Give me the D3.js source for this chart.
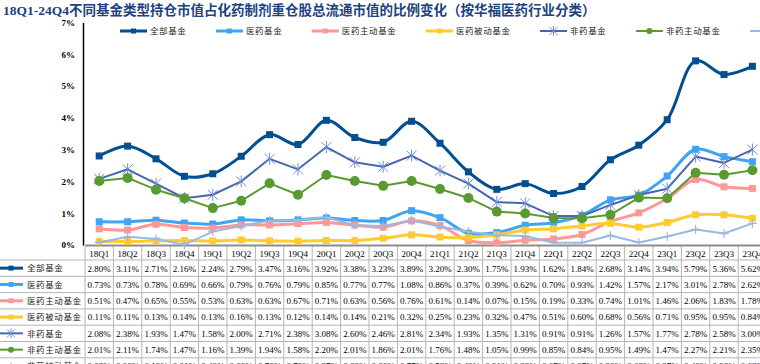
<!DOCTYPE html>
<html>
<head>
<meta charset="utf-8">
<script src="https://cdn.jsdelivr.net/npm/d3@7"></script>
<style>
  body { margin: 0; overflow: hidden; background: #fff; }
  svg { display: block; }
</style>
</head>
<body>
<script>
// quarters (title says up to 24Q4, picture is cut after 23Q4)
const QUARTERS = ['18Q1','18Q2','18Q3','18Q4','19Q1','19Q2','19Q3','19Q4','20Q1','20Q2','20Q3','20Q4',
  '21Q1','21Q2','21Q3','21Q4','22Q1','22Q2','22Q3','22Q4','23Q1','23Q2','23Q3','23Q4',
  '24Q1','24Q2','24Q3','24Q4'];

const ALL_FUNDS = [2.80,3.11,2.71,2.16,2.24,2.79,3.47,3.16,3.92,3.38,3.23,3.89,3.20,2.30,1.75,1.93,1.62,1.84,2.68,3.14,3.94,5.79,5.36,5.62];
const PHARMA = [0.73,0.73,0.78,0.69,0.66,0.79,0.76,0.79,0.85,0.77,0.77,1.08,0.86,0.37,0.39,0.62,0.70,0.93,1.42,1.57,2.17,3.01,2.78,2.62];
const PHARMA_ACTIVE = [0.51,0.47,0.65,0.55,0.53,0.63,0.63,0.67,0.71,0.63,0.56,0.76,0.61,0.14,0.07,0.15,0.19,0.33,0.74,1.01,1.46,2.06,1.83,1.78];
const PHARMA_PASSIVE = [0.11,0.11,0.13,0.14,0.13,0.16,0.13,0.12,0.14,0.14,0.21,0.32,0.25,0.23,0.32,0.47,0.51,0.60,0.68,0.56,0.71,0.95,0.95,0.84];
const NON_PHARMA = [2.08,2.38,1.93,1.47,1.58,2.00,2.71,2.38,3.08,2.60,2.46,2.81,2.34,1.93,1.35,1.31,0.91,0.91,1.26,1.57,1.77,2.78,2.58,3.00];
const NON_PHARMA_ACTIVE = [2.01,2.11,1.74,1.47,1.16,1.39,1.94,1.58,2.20,2.01,1.86,2.01,1.76,1.48,1.05,0.99,0.85,0.84,0.95,1.49,1.47,2.27,2.21,2.35];
// row is cut off in the picture
const NON_PHARMA_PASSIVE = [0.08,0.26,0.19,0.01,0.42,0.60,0.76,0.79,0.87,0.62,0.60,0.77,0.58,0.42,0.31,0.28,0.07,0.07,0.30,0.08,0.27,0.49,0.36,0.68];

const Y_TICKS = [0,1,2,3,4,5,6,7];

const SERIES = [
  {name: '全部基金', values: ALL_FUNDS, color: '#004f91', width: 3, marker: 'square', smooth: true},
  {name: '医药基金', values: PHARMA, color: '#3da5f4', width: 3, marker: 'square', smooth: true},
  {name: '医药主动基金', values: PHARMA_ACTIVE, color: '#ff9796', width: 3, marker: 'square', smooth: true},
  {name: '医药被动基金', values: PHARMA_PASSIVE, color: '#ffcb2f', width: 3, marker: 'square', smooth: true},
  {name: '非药基金', values: NON_PHARMA, color: '#4866b0', width: 2, marker: 'star', smooth: false},
  {name: '非药主动基金', values: NON_PHARMA_ACTIVE, color: '#5a9a30', width: 2, marker: 'circle', smooth: false},
  {name: '非药被动基金', values: NON_PHARMA_PASSIVE, color: '#97b9e4', width: 2, marker: 'plus', smooth: false},
];

const CJK = '"Noto Sans CJK SC", sans-serif';
const SERIF = '"Liberation Serif", "Noto Sans CJK SC", serif';

const COL_W = 28.4;
const LEFT = 85;
const AXIS_X = 83;
const ROW_TOP = 260;
const ROW_H = 16.3;

const svg = d3.select('body').append('svg')
  .attr('width', 900)
  .attr('height', 380);

const x = d3.scaleBand().domain(QUARTERS).range([LEFT, LEFT + COL_W * QUARTERS.length]);
const cx = q => x(q) + x.bandwidth() / 2;
const y = d3.scaleLinear().domain([0, 7]).range([245, 22.4]);

// title
svg.append('text')
  .attr('x', 3).attr('y', 15)
  .attr('font-family', SERIF)
  .attr('font-weight', 'bold')
  .attr('font-size', 13.5)
  .attr('fill', '#1c4282')
  .text('18Q1-24Q4不同基金类型持仓市值占化药制剂重仓股总流通市值的比例变化（按华福医药行业分类）');

// markers
function marker(g, type, color, px, py, s) {
  if (type === 'square') {
    g.append('rect').attr('x', px - s / 2).attr('y', py - s / 2)
      .attr('width', s).attr('height', s).attr('fill', color);
  } else if (type === 'circle') {
    g.append('circle').attr('cx', px).attr('cy', py).attr('r', s / 2 + 1).attr('fill', color);
  } else if (type === 'star') {
    const r = s / 2 + 1.5;
    const p = `M${px - r},${py - r}L${px + r},${py + r}M${px - r},${py + r}L${px + r},${py - r}M${px},${py - r - 1}L${px},${py + r + 1}`;
    g.append('path').attr('d', p).attr('stroke', '#6f8fd8').attr('stroke-width', 1).attr('fill', 'none');
  } else if (type === 'plus') {
    const r = s / 2 + 1;
    g.append('path').attr('d', `M${px - r},${py}L${px + r},${py}M${px},${py - r}L${px},${py + r}`)
      .attr('stroke', color).attr('stroke-width', 1.2).attr('fill', 'none');
  }
}

// legend
let lx = 120;
SERIES.forEach(s => {
  const g = svg.append('g');
  g.append('line').attr('x1', lx).attr('x2', lx + 27).attr('y1', 31).attr('y2', 31)
    .attr('stroke', s.color).attr('stroke-width', s.width);
  marker(g, s.marker, s.color, lx + 13.5, 31, s.marker === 'circle' ? 4 : 5);
  g.append('text').attr('x', lx + 30).attr('y', 31).attr('dy', '0.35em')
    .attr('font-family', CJK).attr('font-size', 8.5).attr('letter-spacing', 0.6)
    .attr('fill', '#222').text(s.name);
  lx += 59.5 + 9.1 * s.name.length;
});

// y axis
const yAxis = svg.append('g')
  .attr('transform', `translate(${AXIS_X},0)`)
  .call(d3.axisLeft(y).tickValues(Y_TICKS).tickFormat(d => d + '%').tickSize(0).tickPadding(8));
yAxis.select('.domain').attr('stroke', '#000').attr('stroke-width', 1.5);
yAxis.selectAll('text')
  .attr('font-family', '"Liberation Serif", serif')
  .attr('font-weight', 'bold')
  .attr('font-size', 9)
  .attr('fill', '#000');

// table grid
const nRows = SERIES.length;
const grid = svg.append('g').attr('stroke', '#b5b5b5').attr('stroke-width', 1);
for (let k = 0; k <= nRows; k++) {
  grid.append('line').attr('x1', 0).attr('x2', 900)
    .attr('y1', ROW_TOP + k * ROW_H).attr('y2', ROW_TOP + k * ROW_H);
}
QUARTERS.forEach(q => {
  grid.append('line').attr('x1', x(q)).attr('x2', x(q)).attr('y1', 245).attr('y2', 380);
});

// x axis line
const xAxis = svg.append('g')
  .attr('transform', 'translate(0,245)')
  .call(d3.axisBottom(x).tickFormat('').tickSize(0));
xAxis.select('.domain').attr('stroke', '#8c8c8c').attr('stroke-width', 2);

// header row
svg.append('g').selectAll('text')
  .data(QUARTERS)
  .enter()
  .append('text')
  .attr('x', d => cx(d))
  .attr('y', 256.5)
  .attr('text-anchor', 'middle')
  .attr('font-family', '"Liberation Serif", serif')
  .attr('font-size', 9)
  .attr('fill', '#000')
  .text(d => d);

// rows
SERIES.forEach((s, i) => {
  const ry = ROW_TOP + i * ROW_H + ROW_H / 2;
  const g = svg.append('g');
  g.append('line').attr('x1', 0).attr('x2', 23).attr('y1', ry).attr('y2', ry)
    .attr('stroke', s.color).attr('stroke-width', s.width);
  marker(g, s.marker, s.color, 11, ry, s.marker === 'circle' ? 4 : 5);
  g.append('text').attr('x', 27).attr('y', ry).attr('dy', '0.38em')
    .attr('font-family', CJK).attr('font-size', 8.5).attr('letter-spacing', 0.6)
    .attr('fill', '#222').text(s.name);
  g.selectAll('.cell')
    .data(s.values)
    .enter()
    .append('text')
    .attr('x', (d, j) => cx(QUARTERS[j]))
    .attr('y', ry)
    .attr('dy', '0.38em')
    .attr('text-anchor', 'middle')
    .attr('font-family', '"Liberation Serif", serif')
    .attr('font-size', 9)
    .attr('fill', '#000')
    .text(d => d.toFixed(2) + '%');
});

// lines
SERIES.forEach(s => {
  const pts = s.values.map((v, j) => [cx(QUARTERS[j]), y(v)]);
  const line = d3.line().curve(s.smooth ? d3.curveCatmullRom.alpha(0.5) : d3.curveLinear);
  const g = svg.append('g');
  g.append('path').attr('d', line(pts))
    .attr('fill', 'none').attr('stroke', s.color).attr('stroke-width', s.width)
    .attr('stroke-linejoin', 'round');
  pts.forEach(p => marker(g, s.marker, s.color, p[0], p[1], s.marker === 'circle' ? 8 : 7));
});
</script>
</body>
</html>
